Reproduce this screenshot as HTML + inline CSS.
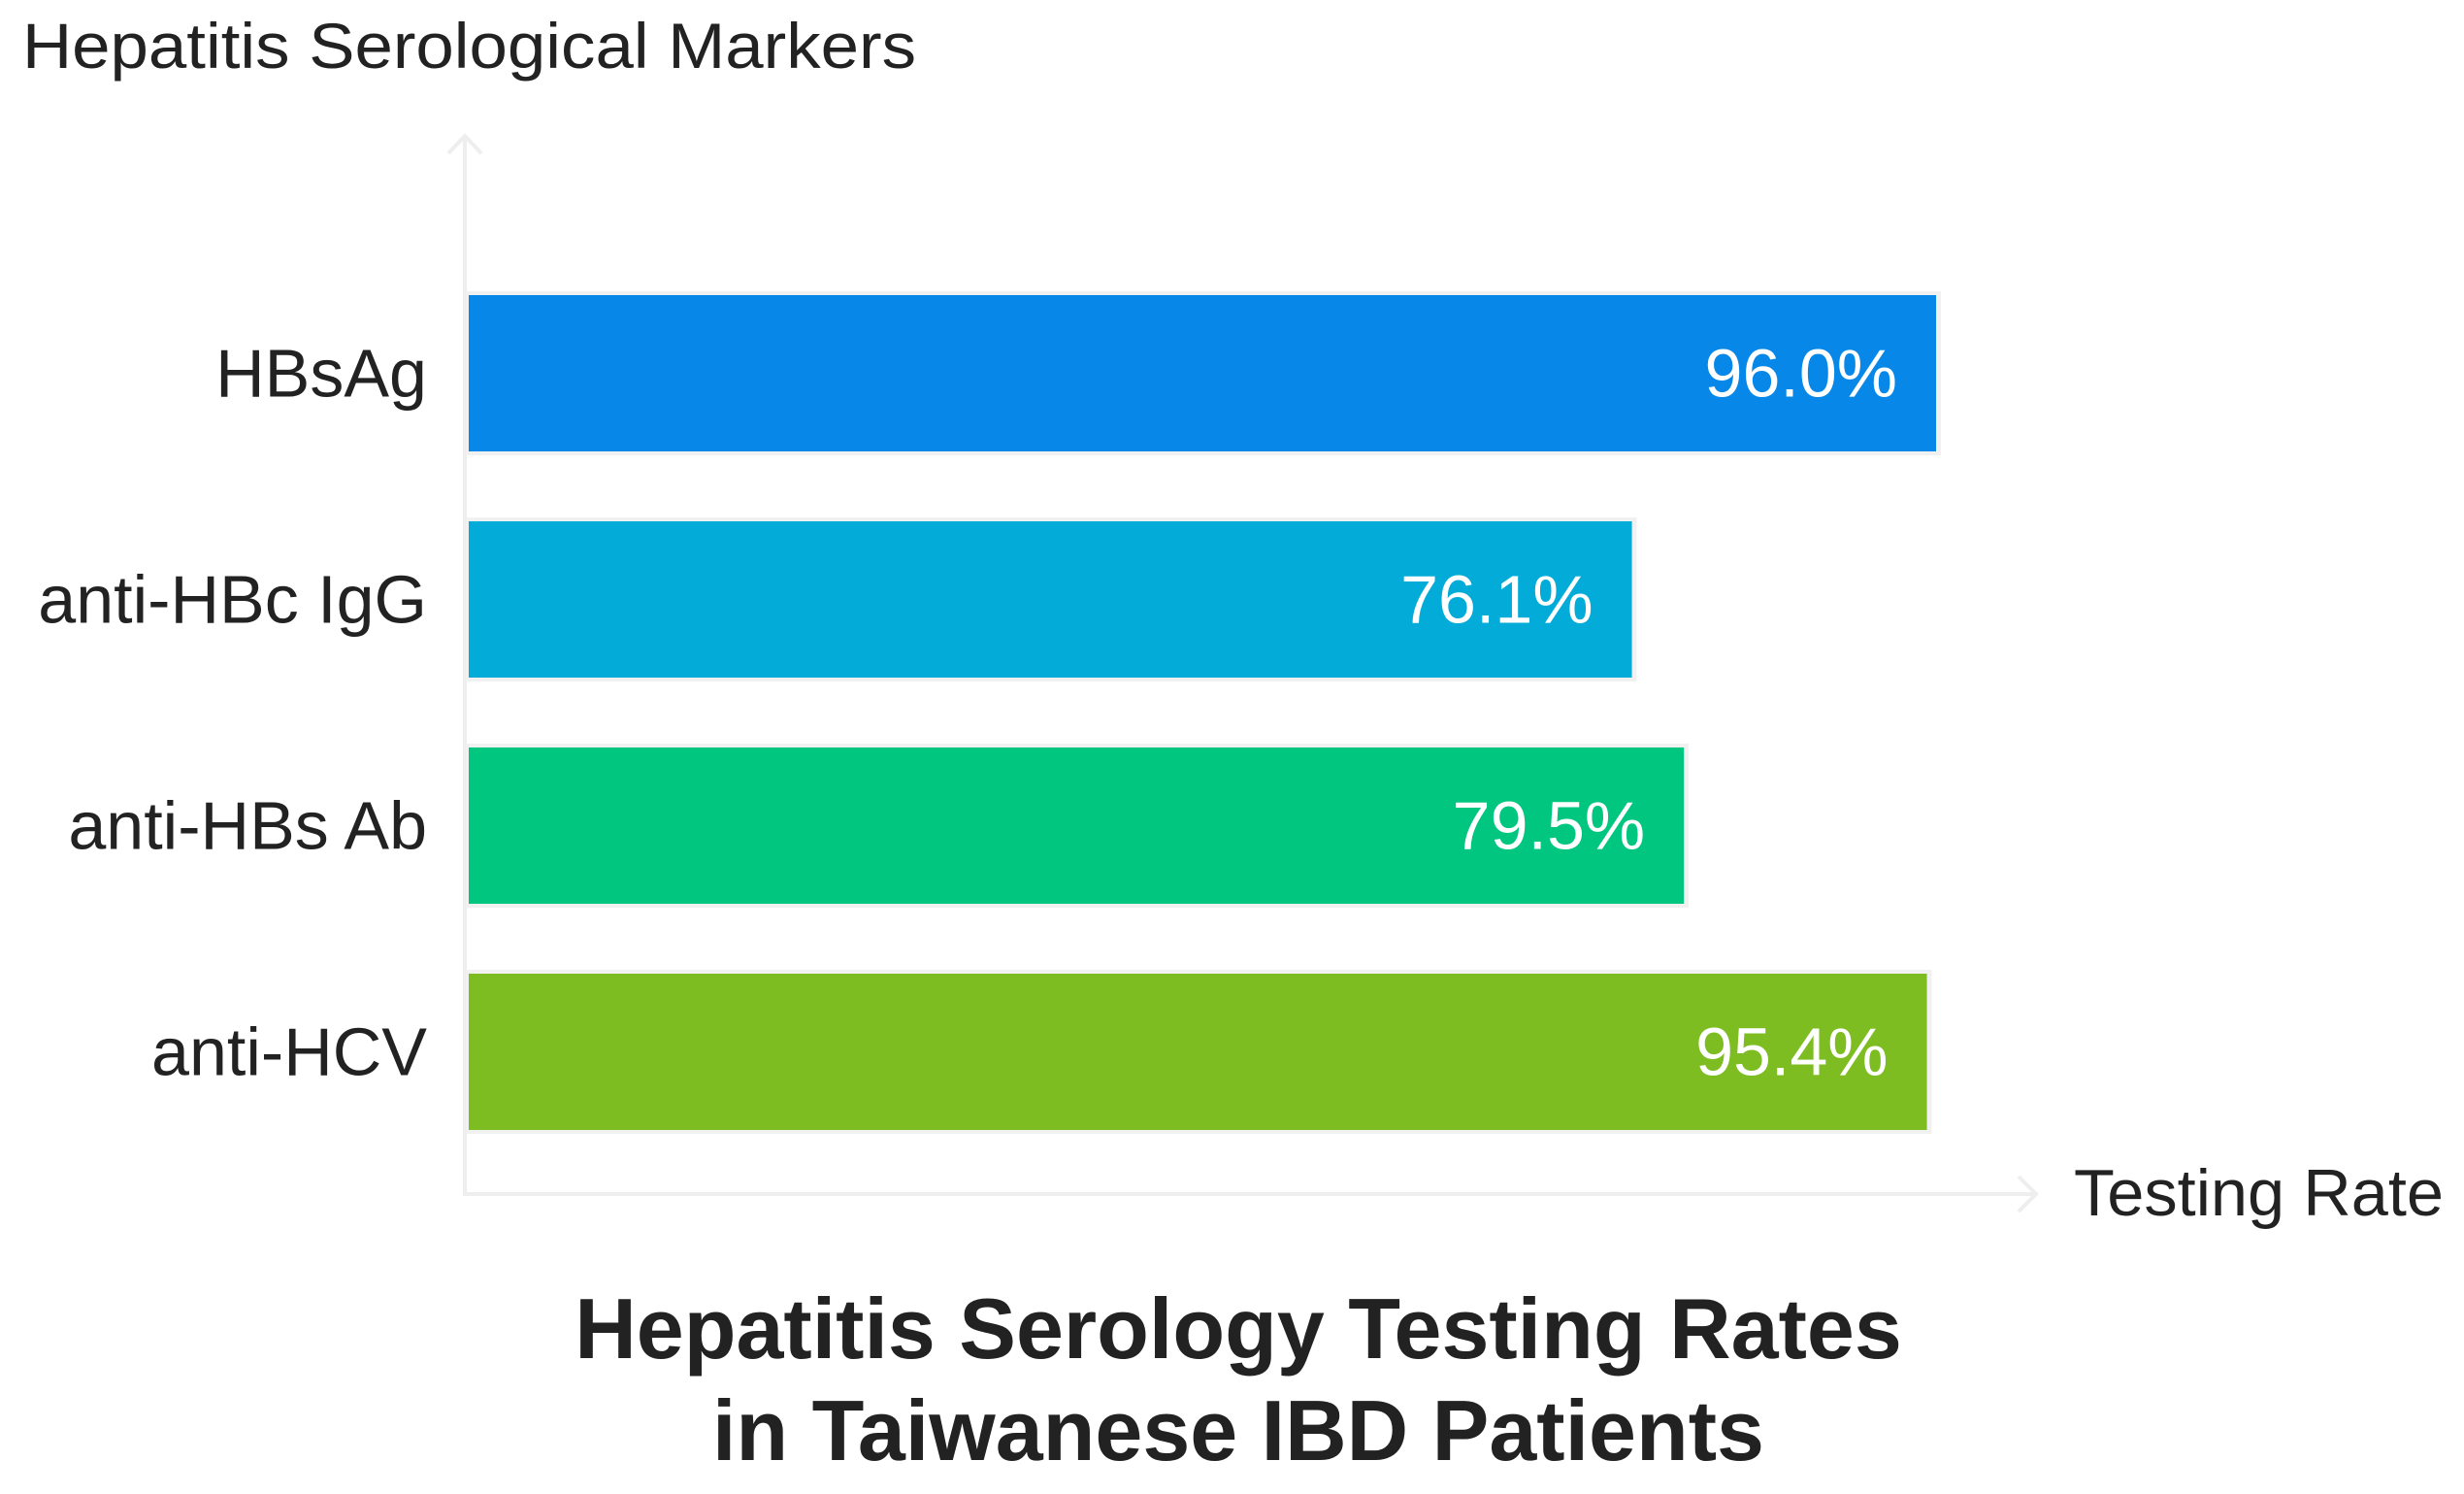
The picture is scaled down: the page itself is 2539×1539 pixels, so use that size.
<!DOCTYPE html>
<html><head><meta charset="utf-8"><style>
html,body{margin:0;padding:0;background:#fff;}
svg{display:block;font-family:"Liberation Sans",sans-serif;}
</style></head><body>
<svg id="chart" width="2539" height="1539" viewBox="0 0 2539 1539">
<text x="23" y="70" font-size="66" fill="#222" textLength="921" lengthAdjust="spacingAndGlyphs">Hepatitis Serological Markers</text>
<line x1="479" y1="140" x2="479" y2="1232" stroke="#eeeeee" stroke-width="4"/>
<polyline points="462,158 479,140 496,158" fill="none" stroke="#eeeeee" stroke-width="4"/>
<line x1="477" y1="1230" x2="2098" y2="1230" stroke="#eeeeee" stroke-width="4"/>
<polyline points="2080,1212 2098,1230 2080,1248" fill="none" stroke="#eeeeee" stroke-width="4"/>
<text x="2137" y="1252" font-size="68" fill="#222" textLength="381" lengthAdjust="spacingAndGlyphs">Testing Rate</text>
<g id="bars"></g>
<text x="1276" y="1399" font-size="88" font-weight="bold" fill="#222" text-anchor="middle">Hepatitis Serology Testing Rates</text>
<text x="1276" y="1504" font-size="88" font-weight="bold" fill="#222" text-anchor="middle">in Taiwanese IBD Patients</text>
</svg>
<script>
const categories = ["HBsAg", "anti-HBc IgG", "anti-HBs Ab", "anti-HCV"];
const values = [96.0, 76.1, 79.5, 95.4];
const valueLabels = ["96.0%", "76.1%", "79.5%", "95.4%"];
const colors = ["#0788E8", "#02ABD8", "#00C680", "#7DBD22"];

const NS = "http://www.w3.org/2000/svg";
const x0 = 483, pxPerUnit = 15.75;
const xScale = v => x0 + v * pxPerUnit;
const bandTop = 304, bandStep = 233, barH = 161;
const yScale = i => bandTop + i * bandStep;
const g = document.getElementById("bars");
categories.forEach((c, i) => {
  const y = yScale(i), xe = xScale(values[i]);
  const sh = document.createElementNS(NS, "rect");
  sh.setAttribute("x", x0 - 3); sh.setAttribute("y", y - 4);
  sh.setAttribute("width", xe - x0 + 8); sh.setAttribute("height", barH + 8);
  sh.setAttribute("fill", "#f1f1f1");
  
  
  g.appendChild(sh);
  const r = document.createElementNS(NS, "rect");
  r.setAttribute("x", x0); r.setAttribute("y", y);
  r.setAttribute("width", xe - x0); r.setAttribute("height", barH);
  r.setAttribute("fill", colors[i]);
  
  
  g.appendChild(r);
  const t = document.createElementNS(NS, "text");
  t.setAttribute("x", 440); t.setAttribute("y", y + barH / 2 + 24);
  t.setAttribute("text-anchor", "end"); t.setAttribute("font-size", "70");
  t.setAttribute("fill", "#222"); t.textContent = c;
  
  
  g.appendChild(t);
  const v = document.createElementNS(NS, "text");
  v.setAttribute("x", xe - 40); v.setAttribute("y", y + barH / 2 + 24);
  v.setAttribute("text-anchor", "end"); v.setAttribute("font-size", "70");
  v.setAttribute("fill", "#fff"); v.textContent = valueLabels[i];
  
  
  g.appendChild(v);
});
</script>
</body></html>
